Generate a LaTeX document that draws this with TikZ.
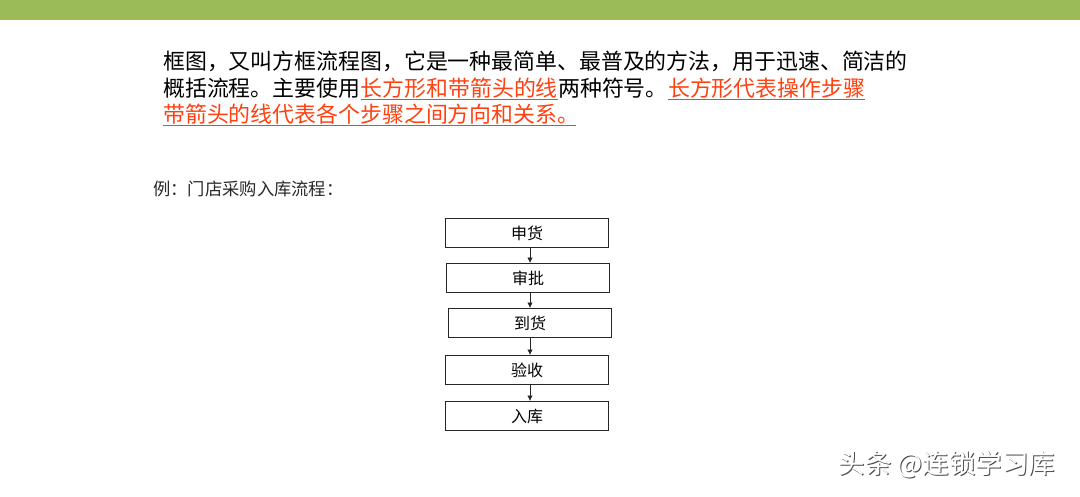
\documentclass[tikz,border=0pt]{standalone}
\usepackage{fontspec}
\usetikzlibrary{positioning,arrows.meta}
\newfontfamily\cjk{Noto Sans CJK SC}
\definecolor{bargreen}{RGB}{155,187,89}
\definecolor{markred}{RGB}{255,64,16}
\definecolor{textgray}{RGB}{40,40,40}
\tikzset{
    intro/.style={anchor=base west, inner sep=0pt, text=black,
        font=\cjk\fontsize{21.9}{26}\selectfont},
    redtext/.style={intro, text=markred},
    uline/.style={markred, line width=1.3pt},
    stepbox/.style={draw=black!85, line width=0.9pt, minimum width=163pt,
        minimum height=29pt, inner sep=0pt, font=\cjk\fontsize{16}{19}\selectfont},
    flow/.style={-{Latex[length=5.5pt,width=5.5pt]}, line width=0.8pt, black!85},
}

\begin{document}
\begin{tikzpicture}[x=1pt, y=-1pt]
    \useasboundingbox (0,0) rectangle (1080,496);
    \fill[bargreen] (0,0) rectangle (1080,20);
    % intro text
    \node[intro] (l1) at (163,69) {框图，又叫方框流程图，它是一种最简单、最普及的方法，用于迅速、简洁的};
    \node[intro] (l2a) at (163,96) {概括流程。主要使用};
    \node[redtext] (l2b) at (l2a.base east) {长方形和带箭头的线};
    \node[intro] (l2c) at (l2b.base east) {两种符号。};
    \node[redtext] (l2d) at (l2c.base east) {长方形代表操作步骤};
    \node[redtext] (l3) at (163,122) {带箭头的线代表各个步骤之间方向和关系。};
    \coordinate (l3end) at ([xshift=-4pt]l3.base east);
    \draw[uline] ([yshift=-3.5pt]l2b.base west) -- ([yshift=-3.5pt]l2b.base east);
    \draw[uline] ([yshift=-3.5pt]l2d.base west) -- ([yshift=-3.5pt]l2d.base east);
    \draw[uline] ([yshift=-3.5pt]l3.base west) -- ([yshift=-3.5pt]l3end);
    \node[anchor=base west, inner sep=0pt, text=textgray,
        font=\cjk\fontsize{17.3}{20}\selectfont] (ex) at (153,195) {例：门店采购入库流程：};
    % flow chart
    \node[stepbox] (s1) at (527,233) {申货};
    \node[stepbox] (s2) at (528,278) {审批};
    \node[stepbox] (s3) at (530,323) {到货};
    \node[stepbox] (s4) at (527,370) {验收};
    \node[stepbox] (s5) at (527,416) {入库};
    \draw[flow] (s1.south -| 530,0) -- (s2.north -| 530,0);
    \draw[flow] (s2.south -| 530,0) -- (s3.north -| 530,0);
    \draw[flow] (s3.south -| 530,0) -- (s4.north -| 530,0);
    \draw[flow] (s4.south -| 530,0) -- (s5.north -| 530,0);
    % watermark
    \node[anchor=west, text=black!70, font=\cjk\fontsize{26.5}{31}\selectfont] (wms) at (836,466) {头条 @连锁学习库};
    \node[anchor=west, text=white, font=\cjk\fontsize{26.5}{31}\selectfont] (wm) at (835,465) {头条 @连锁学习库};
\end{tikzpicture}
\end{document}
